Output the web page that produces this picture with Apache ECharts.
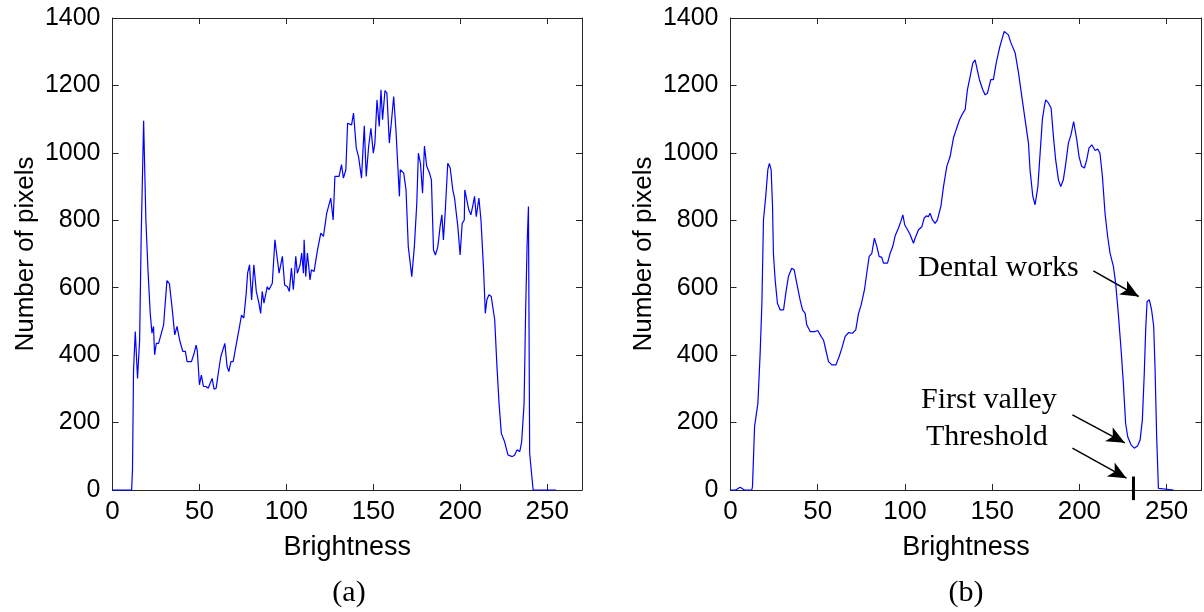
<!DOCTYPE html>
<html>
<head>
<meta charset="utf-8">
<script src="https://cdn.jsdelivr.net/npm/echarts@6.0.0/dist/echarts.min.js"></script>
<style>
  html, body { margin: 0; padding: 0; background: #fff; }
  #chart { width: 1204px; height: 612px; }
</style>
</head>
<body>
<div id="chart"></div>
<script>
// (a) raw histogram
var rawX = [0, 11, 11.5, 12.1, 13.1, 14.4, 15.6, 16.5, 17.9, 19.2, 20.4, 21.7, 22.7, 23.6, 24.2, 25.2, 26.5, 29.4, 31.3, 32.7,
  34.2, 35.8, 37.1, 38.6, 40.4, 41.9, 42.9, 45.4, 46.7, 48.1, 48.8, 50.0, 51.1, 52.3, 53.8, 55.0, 55.9, 57.3, 58.4, 59.6,
  61.1, 62.3, 64.6, 65.9, 66.9, 68.1, 69.4, 71.1, 72.7, 74.2, 75.5, 76.9, 77.7, 78.8, 80.0, 81.3, 82.7, 84.2, 85.2, 86.1,
  87.1, 89.0, 90.0, 91.9, 93.4, 95.8, 97.7, 99.0, 100.6, 101.7, 102.9, 104.0, 105.4, 106.3, 107.9, 108.8, 109.8, 110.2, 111.1, 112.1,
  113.6, 114.4, 115.9, 117.9, 119.8, 121.3, 123.2, 125.5, 126.9, 127.9, 130.3, 131.7, 132.8, 134.2, 135.2, 137.5, 138.6, 140.2, 141.5, 143.2,
  143.8, 144.8, 145.9, 147.3, 148.6, 150.0, 150.9, 152.1, 153.4, 154.4, 155.3, 156.7, 157.8, 159.2, 160.5, 161.7, 163.0, 165.0, 165.5, 167.5,
  168.8, 170.1, 172.1, 173.6, 175.0, 175.9, 177.1, 178.3, 179.4, 180.7, 182.3, 183.4, 184.6, 185.7, 187.1, 188.4, 189.4, 190.3, 191.3, 192.8,
  194.2, 195.7, 196.7, 197.6, 198.6, 199.9, 201.1, 202.3, 202.6, 203.4, 204.9, 206.1, 207.3, 208.2, 209.2, 210.7, 211.9, 213.4, 214.4, 215.3,
  216.5, 217.8, 218.4, 219.8, 221.1, 222.3, 223.6, 225.5, 227.4, 229.9, 231.3, 232.6, 234.2, 235.3, 236.7, 237.6, 238.4, 239.2, 239.9, 241.9, 255];
var rawY = [0, 0, 60, 356, 470, 331, 445, 752, 1095, 801, 653, 524, 465, 485, 401, 435, 435, 490, 621, 613,
  544, 460, 485, 445, 411, 411, 381, 381, 401, 430, 411, 312, 341, 307, 307, 302, 297, 331, 299, 302,
  356, 396, 435, 366, 351, 381, 381, 430, 475, 519, 510, 584, 643, 668, 564, 668, 589, 554, 524, 589,
  554, 603, 594, 613, 742, 643, 693, 608, 603, 589, 658, 594, 693, 643, 668, 703, 643, 742, 633, 703,
  623, 653, 648, 712, 762, 752, 821, 866, 801, 930, 930, 965, 925, 950, 1088, 1083, 1118, 1014, 989, 925,
  925, 1080, 930, 1019, 1073, 999, 1029, 1157, 1078, 1187, 1098, 1185, 1177, 1029, 1098, 1167, 1068, 871, 950, 940,
  890, 722, 633, 722, 851, 999, 969, 880, 1020, 960, 940, 920, 712, 697, 722, 781, 816, 742, 821, 969,
  955, 890, 866, 861, 781, 697, 791, 801, 890, 895, 831, 816, 846, 871, 811, 866, 801, 653, 524, 564,
  579, 574, 579, 505, 366, 257, 168, 143, 104, 99, 104, 119, 114, 143, 257, 534, 722, 841, 109, 0, 0];

// (b) smoothed histogram
var smoothX = [0, 3, 5.5, 8, 12.2, 12.6, 13.8, 15.7, 17.0, 18.0, 18.9, 20.2, 21.4, 22.3, 23.3, 24.1, 24.6, 25.6, 26.9, 28.5,
  30.4, 31.7, 33.2, 35.1, 36.5, 38.0, 39.9, 41.3, 42.8, 43.7, 45.7, 48.5, 50.0, 52.0, 53.3, 54.6, 56.2, 58.1, 60.4, 62.3,
  63.8, 65.7, 67.6, 69.9, 71.8, 73.4, 74.9, 76.8, 78.1, 79.5, 81.0, 82.5, 83.9, 85.2, 86.7, 87.7, 90.0, 91.5, 93.0, 94.4,
  96.3, 97.6, 98.8, 99.9, 101.5, 103.0, 104.9, 105.8, 107.8, 109.7, 111.0, 112.2, 113.5, 114.4, 115.8, 117.3, 118.6, 120.6, 122.1, 124.0,
  125.9, 127.8, 129.3, 131.3, 133.2, 134.5, 135.8, 137.4, 138.9, 140.2, 141.2, 142.7, 144.6, 146.0, 147.3, 149.2, 150.7, 152.3, 154.2, 155.5,
  156.9, 158.0, 159.3, 160.7, 161.8, 163.2, 165.1, 167.0, 168.9, 170.8, 171.7, 173.3, 174.6, 176.2, 177.5, 178.8, 180.0, 180.7, 182.2, 183.8,
  185.1, 186.4, 188.0, 189.3, 190.8, 192.2, 193.7, 195.2, 196.0, 196.7, 197.5, 198.5, 199.8, 201.3, 202.9, 204.2, 205.5, 207.1, 208.0, 209.0,
  210.5, 211.8, 213.2, 214.7, 216.2, 217.6, 219.5, 220.8, 222.3, 223.9, 225.2, 226.5, 227.7, 229.6, 231.5, 233.4, 234.8, 236.1, 237.2, 238.0,
  238.8, 240.1, 241.4, 242.6, 243.4, 244.3, 245.3, 245.7, 254];
var smoothY = [0, 0, 8, 0, 0, 10, 188, 257, 406, 554, 801, 871, 950, 969, 950, 841, 702, 623, 554, 534,
  534, 584, 633, 658, 653, 613, 564, 534, 524, 490, 470, 470, 473, 455, 445, 416, 381, 371, 371, 396,
  420, 455, 467, 465, 475, 524, 549, 594, 643, 693, 702, 747, 722, 693, 690, 673, 673, 702, 722, 754,
  777, 796, 816, 786, 772, 757, 732, 747, 772, 781, 806, 813, 811, 821, 801, 791, 801, 841, 900, 960,
  989, 1044, 1068, 1098, 1118, 1128, 1187, 1227, 1266, 1276, 1271, 1217, 1187, 1172, 1177, 1217, 1217, 1266, 1311, 1335,
  1360, 1365, 1350, 1327, 1327, 1296, 1237, 1167, 1098, 1029, 950, 871, 846, 900, 1000, 1100, 1140, 1157, 1148, 1133,
  1049, 979, 920, 900, 920, 969, 1029, 1054, 1049, 1093, 1088, 1039, 989, 960, 955, 979, 1014, 1024, 1024, 1007,
  1011, 999, 930, 821, 752, 702, 663, 613, 524, 416, 317, 198, 158, 134, 124, 131, 148, 208, 346, 475,
  559, 564, 534, 485, 356, 158, 5, 0, 0];

var xTicks = { min: 0, max: 270, interval: 50 };
var yTicks = { min: 0, max: 1400, interval: 200 };
var threshold = 231;

// annotation arrows: [from, to] in data units
var arrows = [
  [[208, 650], [234, 574]],
  [[196, 223], [226, 140]],
  [[196, 124], [227, 35]]
];

function zip(xs, ys) {
  var out = [];
  for (var i = 0; i < xs.length; i++) out.push([xs[i], ys[i]]);
  return out;
}

var axisColor = '#262626';
var sansFont = '"Liberation Sans", Arial, Helvetica, sans-serif';
var serifFont = '"Liberation Serif", "Times New Roman", serif';

function makeXAxis(grid, pos) {
  var main = pos === 'bottom';
  return {
    gridIndex: grid, type: 'value', position: pos,
    min: xTicks.min, max: xTicks.max, interval: xTicks.interval,
    axisLine: { onZero: false, lineStyle: { color: axisColor, width: 1 } },
    axisTick: { inside: true, length: 6, lineStyle: { color: axisColor } },
    axisLabel: { show: main, showMaxLabel: false, fontSize: 26, fontFamily: sansFont, color: '#000', margin: 9 },
    splitLine: { show: false },
    name: main ? 'Brightness' : '', nameLocation: 'middle', nameGap: 44,
    nameTextStyle: { fontSize: 27, fontFamily: sansFont, color: '#000' }
  };
}

function makeYAxis(grid, pos) {
  var main = pos === 'left';
  return {
    gridIndex: grid, type: 'value', position: pos,
    min: yTicks.min, max: yTicks.max, interval: yTicks.interval,
    axisLine: { onZero: false, lineStyle: { color: axisColor, width: 1 } },
    axisTick: { inside: true, length: 6, lineStyle: { color: axisColor } },
    axisLabel: {
      show: main, fontSize: 25, fontFamily: sansFont, color: '#000', margin: 12,
      formatter: function (v) { return String(v); }
    },
    splitLine: { show: false },
    name: main ? 'Number of pixels' : '', nameLocation: 'middle', nameGap: 74, nameRotate: 90,
    nameTextStyle: { fontSize: 26, fontFamily: sansFont, color: '#000' }
  };
}

var chart = echarts.init(document.getElementById('chart'), null, { renderer: 'canvas' });

chart.setOption({
  animation: false,
  backgroundColor: '#fff',
  grid: [
    { left: 112.5, top: 18, width: 469.5, height: 472 },
    { left: 730.5, top: 18, width: 471, height: 472 }
  ],
  xAxis: [makeXAxis(0, 'bottom'), makeXAxis(0, 'top'), makeXAxis(1, 'bottom'), makeXAxis(1, 'top')],
  yAxis: [makeYAxis(0, 'left'), makeYAxis(0, 'right'), makeYAxis(1, 'left'), makeYAxis(1, 'right')],
  series: [
    {
      type: 'line', xAxisIndex: 0, yAxisIndex: 0,
      data: zip(rawX, rawY),
      showSymbol: false,
      clip: false,
      z: 5,
      lineStyle: { color: '#0000ff', width: 1.2 }
    },
    {
      type: 'line', xAxisIndex: 2, yAxisIndex: 2,
      data: zip(smoothX, smoothY),
      showSymbol: false,
      clip: false,
      z: 5,
      lineStyle: { color: '#0000ff', width: 1.2 },
      markLine: {
        silent: true,
        symbol: ['none', 'arrow'],
        symbolSize: [12, 18],
        label: { show: false },
        lineStyle: { color: '#000', width: 1.5, type: 'solid' },
        data: arrows.map(function (a) {
          return [{ coord: a[0] }, { coord: a[1] }];
        })
      }
    },
    {
      // threshold marker, crosses the axis
      type: 'line', xAxisIndex: 2, yAxisIndex: 2,
      data: [[threshold, 40], [threshold, -30]],
      clip: false,
      showSymbol: false,
      z: 6,
      lineStyle: { color: '#000', width: 3 }
    }
  ],
  graphic: [
    { type: 'text', left: 918, top: 253, style: { text: 'Dental works', font: '30px ' + serifFont, fill: '#000' } },
    { type: 'text', left: 921, top: 385, style: { text: 'First valley', font: '30px ' + serifFont, fill: '#000' } },
    { type: 'text', left: 926, top: 422, style: { text: 'Threshold', font: '30px ' + serifFont, fill: '#000' } },
    { type: 'text', x: 349, y: 593, style: { text: '(a)', font: '30px ' + serifFont, fill: '#000', align: 'center', verticalAlign: 'middle' } },
    { type: 'text', x: 966, y: 593, style: { text: '(b)', font: '30px ' + serifFont, fill: '#000', align: 'center', verticalAlign: 'middle' } }
  ]
});
</script>
</body>
</html>
